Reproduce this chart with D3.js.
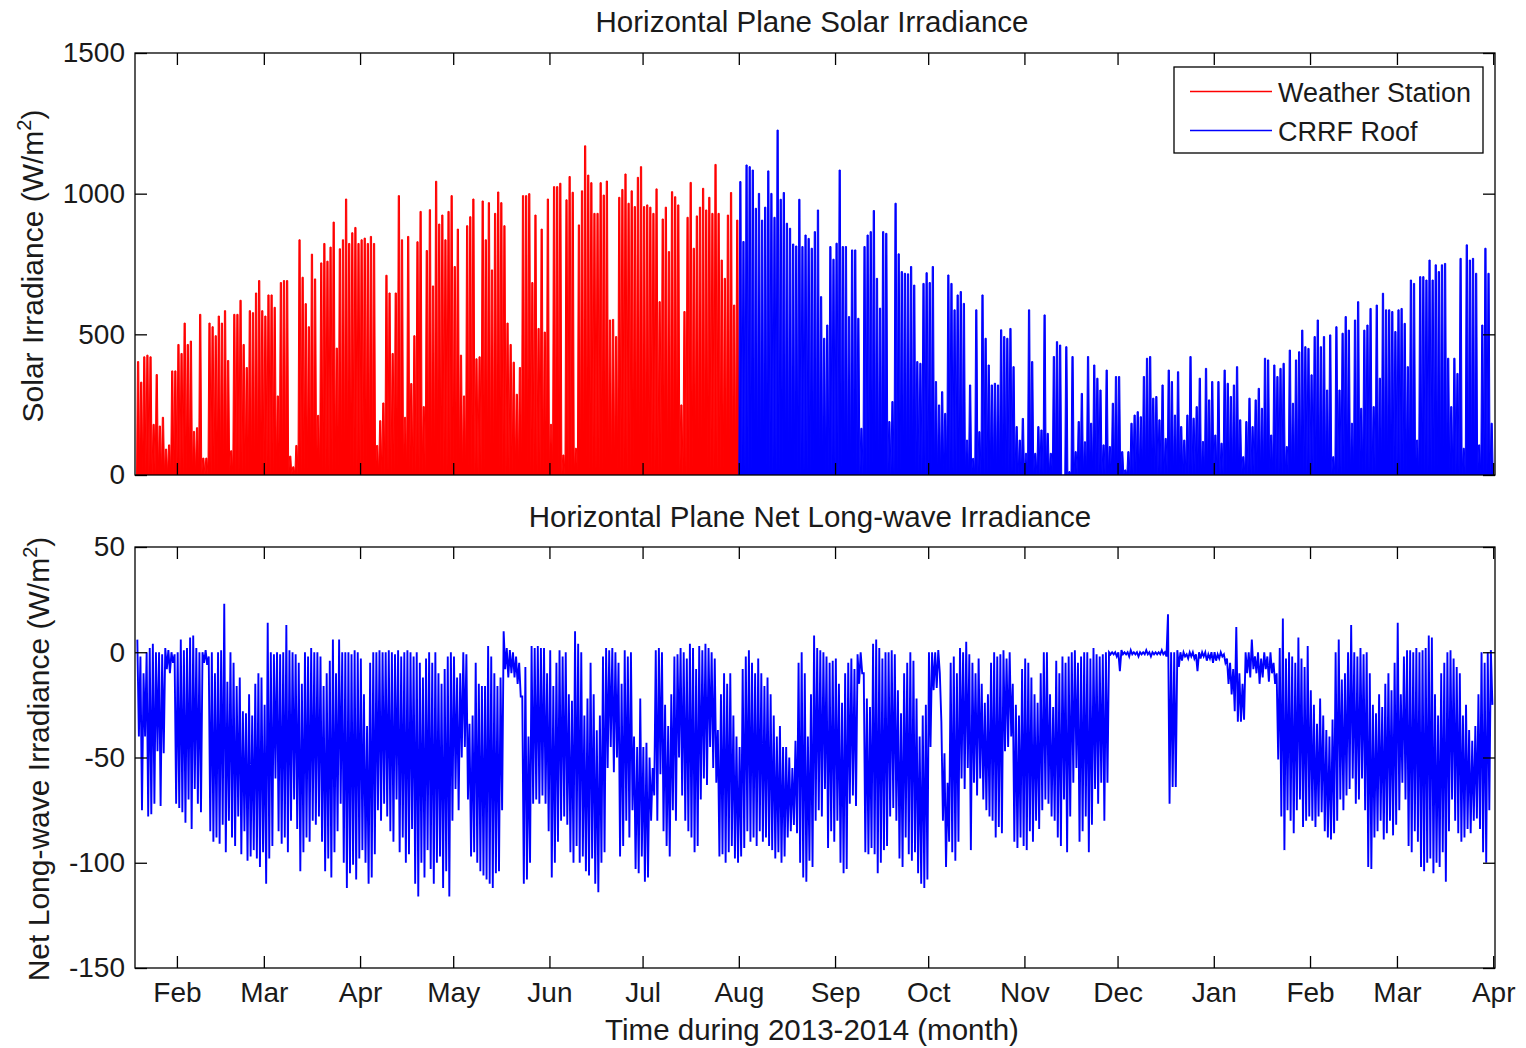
<!DOCTYPE html>
<html>
<head>
<meta charset="utf-8">
<script src="https://cdn.jsdelivr.net/npm/d3@7/dist/d3.min.js"></script>
<style>
body { margin: 0; background: #fff; }
svg { display: block; }
text { font-family: "Liberation Sans", Arial, Helvetica, sans-serif; fill: #1a1a1a; }
</style>
</head>
<body>
<svg id="chart" width="1526" height="1048"></svg>
<script>
//Month ticks shared by both panels
var monthTicks = ["2013-02-01","2013-03-01","2013-04-01","2013-05-01","2013-06-01","2013-07-01","2013-08-01",
    "2013-09-01","2013-10-01","2013-11-01","2013-12-01","2014-01-01","2014-02-01","2014-03-01","2014-04-01"];
var monthLabels = ["Feb","Mar","Apr","May","Jun","Jul","Aug","Sep","Oct","Nov","Dec","Jan","Feb","Mar","Apr"];
var solarTicks = [0, 500, 1000, 1500];
var lwTicks = [-150, -100, -50, 0, 50];

//Daily peak solar irradiance (W/m2), weather station from 2013-01-19
var stationStart = "2013-01-19";
var solarStation = [403,330,420,426,420,180,357,174,205,92,
    107,370,370,464,432,540,464,476,155,168,
    571,60,60,540,527,495,565,540,584,407,
    86,571,571,621,464,382,584,577,647,691,
    584,565,640,640,596,281,684,691,691,67,
    29,105,836,703,609,527,785,697,212,754,
    823,760,810,899,451,804,836,981,823,861,
    880,823,836,842,823,848,823,105,193,256,
    710,647,432,647,993,836,205,848,325,495,
    829,937,243,798,943,672,1044,892,924,836,
    937,993,741,874,426,281,886,918,981,413,
    420,974,836,968,729,930,1006,968,886,540,
    464,401,287,382,993,993,1000,684,924,521,
    874,508,981,180,1025,1025,1037,71,978,1061,
    1005,95,889,1010,1170,1066,1039,930,930,1039,
    995,1045,551,553,492,987,1015,1070,966,1010,
    954,1058,1096,954,960,952,930,1017,616,910,
    952,794,1007,989,960,249,581,916,1040,806,
    921,952,1019,942,987,930,1104,930,764,699,
    924,1004,604,906];

//Daily peak solar irradiance (W/m2), CRRF roof from 2013-08-01
var roofStart = "2013-08-01";
var solarRoof = [1043,830,1102,1096,1084,948,1001,906,952,1081,
    1001,916,1226,980,1004,895,877,821,814,980,
    812,853,841,806,865,942,634,486,533,812,
    767,824,1084,812,812,563,800,800,557,166,
    812,853,865,940,699,593,865,859,190,261,
    966,786,723,717,715,741,675,403,397,681,
    719,684,741,332,249,296,219,711,681,587,
    640,652,610,124,320,59,587,154,640,486,
    391,320,326,320,516,492,486,521,385,172,
    124,201,77,587,403,77,172,160,569,148,
    77,421,474,462,0,456,12,421,83,190,
    290,118,421,184,391,344,302,107,373,101,
    255,350,350,83,18,83,184,213,225,207,
    350,415,421,273,279,196,320,130,373,332,
    213,367,172,124,213,421,202,243,344,119,
    379,267,332,142,332,113,373,326,279,320,
    385,196,65,190,273,172,267,308,237,415,
    409,142,391,350,379,397,101,444,255,409,
    438,515,456,450,356,492,551,456,492,302,
    498,65,527,302,504,563,515,184,551,616,
    237,515,533,592,243,604,344,646,587,587,
    581,510,587,592,539,385,693,681,124,705,
    705,693,764,693,747,723,747,752,415,243,
    415,361,770,95,818,764,770,717,107,533,
    806,717,184];

//Daily high and low net long-wave irradiance (W/m2), CRRF roof from 2013-01-19
var lwStart = "2013-01-19";
var lwHigh = [6,-2,-10,0,2,4,0,0,-1,2,
    1,0,-1,0,6,1,2,7,8,2,
    0,0,1,-2,0,-10,0,1,23,-14,
    0,-5,-16,-12,-28,-29,-20,-30,-15,-10,
    -12,-25,14,0,-1,0,-1,0,13,1,
    0,-1,-5,-15,0,-2,2,0,0,-2,
    -16,-10,-4,6,-10,6,0,0,0,-1,
    1,0,-3,-20,-35,-5,0,0,1,0,
    0,1,0,-1,1,-2,0,1,0,-2,
    0,-5,-12,-3,0,-5,0,-10,-15,-8,
    -2,0,-2,-12,-10,0,-1,-34,-30,-5,
    -15,-16,-16,3,-2,-10,-16,-12,10,2,
    1,0,-2,-5,-21,-7,-40,3,2,3,
    2,2,-10,1,-16,-5,1,-2,0,-20,
    -23,10,4,0,-30,-22,-5,-20,-37,-30,
    -2,2,1,2,0,-5,-15,1,-2,0,
    -40,-45,-22,-45,-43,-50,-55,1,2,0,
    -25,-35,-20,-2,-1,2,0,-3,4,2,
    -8,3,1,4,2,0,-3,-37,-20,-10,
    -15,-10,-30,-40,-45,-8,-2,1,-5,-10,
    -3,-10,-16,-12,-20,-30,-40,-35,-45,-45,
    -50,-55,-42,-5,0,-10,-40,-20,8,2,
    1,0,-2,-5,-4,-3,-15,-24,-10,-5,
    -3,-8,-1,0,-10,-22,-26,4,6,2,
    -3,0,0,1,-1,-18,-29,-10,-5,0,
    -4,-22,-40,-30,-25,0,0,0,1,-33,
    -48,-62,-5,-2,-10,2,0,5,-1,-5,
    -10,-3,-15,-24,-20,-5,0,-2,-1,1,
    -3,0,-15,-25,-30,-8,-3,-5,-12,-20,
    -24,-10,0,0,-20,-26,-4,-10,-2,-5,
    -2,0,1,-5,-2,0,0,-3,2,-1,
    -2,-1,0,0,0,0,0,1,0,0,
    1,0,0,0,0,1,0,0,0,0,
    1,0,18,0,0,1,0,0,-1,0,
    0,-1,0,0,0,-1,0,0,-1,0,
    -1,-3,-5,-8,12,-10,-15,0,0,6,
    -2,0,-3,0,-2,0,-5,-10,2,16,
    -3,0,-2,-5,7,-3,-7,3,-18,-25,
    -34,-22,-30,-37,-40,-32,0,6,-13,-10,
    0,13,0,-2,2,-1,0,-10,-25,-29,
    -20,-26,-15,-10,-18,-5,14,-20,-2,1,
    1,0,2,0,1,2,8,7,-20,-30,
    -10,-5,0,1,-3,-7,-10,-30,-25,-37,
    -42,-35,-20,0,-5,0,1];
var lwLow = [-40,-75,-40,-78,-77,-72,-47,-73,-48,-8,
    -10,-5,-72,-74,-76,-81,-70,-84,-65,-72,
    -76,-5,-6,-85,-90,-88,-91,-82,-95,-80,
    -88,-92,-78,-96,-85,-99,-97,-94,-98,-102,
    -95,-110,-98,-92,-60,-85,-91,-88,-95,-80,
    -70,-84,-104,-95,-88,-90,-80,-82,-78,-90,
    -104,-98,-107,-95,-85,-72,-100,-112,-105,-101,
    -108,-98,-94,-100,-110,-107,-96,-75,-80,-72,
    -78,-85,-90,-70,-95,-88,-100,-96,-84,-110,
    -116,-100,-107,-94,-103,-110,-100,-97,-112,-104,
    -116,-80,-65,-75,-50,-45,-70,-97,-95,-100,
    -104,-106,-108,-110,-112,-105,-104,-75,-8,-12,
    -10,-12,-15,-21,-110,-108,-100,-72,-70,-72,
    -68,-72,-85,-107,-100,-90,-80,-78,-82,-95,
    -100,-92,-100,-97,-104,-106,-98,-110,-114,-100,
    -95,-55,-45,-57,-50,-97,-92,-80,-88,-75,
    -103,-105,-97,-109,-107,-80,-68,-80,-58,-85,
    -92,-97,-75,-80,-50,-68,-80,-85,-88,-95,
    -92,-70,-60,-63,-45,-55,-62,-97,-96,-100,
    -95,-92,-98,-100,-97,-93,-85,-90,-88,-92,
    -85,-90,-88,-92,-94,-98,-95,-100,-97,-88,
    -85,-82,-86,-100,-107,-109,-99,-102,-80,-75,
    -78,-65,-93,-85,-90,-80,-100,-105,-103,-72,
    -68,-73,-15,-10,-95,-96,-93,-96,-105,-100,
    -94,-92,-78,-74,-80,-98,-102,-88,-96,-99,
    -95,-105,-110,-112,-108,-45,-18,-17,-10,-80,
    -102,-90,-95,-99,-90,-60,-65,-55,-94,-62,
    -68,-60,-70,-75,-78,-80,-88,-83,-86,-47,
    -45,-40,-90,-93,-88,-92,-94,-85,-90,-80,
    -84,-75,-70,-72,-78,-80,-88,-92,-70,-95,
    -78,-62,-55,-90,-85,-78,-95,-82,-65,-72,
    -62,-80,-62,-1,-1,-2,-9,-1,-1,-2,
    -1,-1,-2,-1,-1,-1,-2,-1,-1,-1,
    -1,-2,-72,-64,-64,-7,-4,-2,-3,-2,
    -3,-9,-3,-2,-4,-3,-5,-4,-3,-2,
    -5,-15,-20,-28,-33,-33,-32,-10,-12,-8,
    -10,-15,-12,-8,-14,-10,-15,-51,-78,-94,
    -75,-80,-86,-75,-70,-83,-80,-78,-80,-83,
    -78,-76,-85,-88,-89,-86,-80,-70,-75,-68,
    -65,-60,-72,-70,-60,-75,-102,-103,-88,-85,
    -80,-89,-86,-80,-87,-82,-75,-62,-70,-92,
    -95,-85,-90,-102,-104,-100,-98,-105,-100,-102,
    -95,-109,-85,-70,-80,-86,-90,-88,-84,-86,
    -80,-79,-84,-95,-100,-75,-25];

var DAY = 864e5;
var parseDay = d3.utcParse("%Y-%m-%d");

var svg = d3.select("#chart");
svg.append("rect").attr("width", 1526).attr("height", 1048).attr("fill", "#fff");

//Shared time scale, both panels span the same dates
var x = d3.scaleUtc()
    .domain([new Date(Date.UTC(2013, 0, 18, 12)), new Date(Date.UTC(2014, 3, 1, 14))])
    .range([135, 1495]);

var ySolar = d3.scaleLinear().domain([0, 1500]).range([475, 53]);
var yLw = d3.scaleLinear().domain([-150, 50]).range([968, 547]);

var tickDates = monthTicks.map(function (d) { return parseDay(d); });

var defs = svg.append("defs");
defs.append("clipPath").attr("id", "clipTop")
    .append("rect").attr("x", 135).attr("y", 53).attr("width", 1360).attr("height", 422);
defs.append("clipPath").attr("id", "clipBottom")
    .append("rect").attr("x", 135).attr("y", 547).attr("width", 1360).attr("height", 421);

//Each day becomes one peak: rise, plateau at the daily value, back to zero
function dailyPeaks(start, values) {
    var t = parseDay(start).getTime();
    var pts = [];
    values.forEach(function (v, i) {
        var t0 = t + i * DAY;
        pts.push([t0, 0], [t0 + 0.3 * DAY, v], [t0 + 0.7 * DAY, v], [t0 + DAY, 0]);
    });
    return pts;
}

//Each day becomes a swing from its high to its low
function dailySwing(start, highs, lows) {
    var t = parseDay(start).getTime();
    var pts = [];
    highs.forEach(function (h, i) {
        var t0 = t + i * DAY;
        pts.push([t0 + 0.25 * DAY, h], [t0 + 0.75 * DAY, lows[i]]);
    });
    return pts;
}

var solarArea = d3.area()
    .x(function (d) { return x(new Date(d[0])); })
    .y0(ySolar(0))
    .y1(function (d) { return ySolar(d[1]); });
var solarLine = d3.line()
    .x(function (d) { return x(new Date(d[0])); })
    .y(function (d) { return ySolar(d[1]); });
var lwLine = d3.line()
    .x(function (d) { return x(new Date(d[0])); })
    .y(function (d) { return yLw(d[1]); });

var topData = svg.append("g").attr("clip-path", "url(#clipTop)");
[[stationStart, solarStation, "#ff0000"], [roofStart, solarRoof, "#0000ff"]].forEach(function (s) {
    var pts = dailyPeaks(s[0], s[1]);
    topData.append("path")
        .attr("d", solarArea(pts))
        .attr("fill", s[2]);
    topData.append("path")
        .attr("d", solarLine(pts))
        .attr("fill", "none")
        .attr("stroke", s[2])
        .attr("stroke-width", 1);
});

svg.append("g").attr("clip-path", "url(#clipBottom)")
    .append("path")
    .attr("d", lwLine(dailySwing(lwStart, lwHigh, lwLow)))
    .attr("fill", "none")
    .attr("stroke", "#0000ff")
    .attr("stroke-width", 1.9);

//Box axes with inward ticks on all four sides
function drawFrame(y, ticks, withMonthLabels) {
    var top = y.range()[1], bottom = y.range()[0];
    var g = svg.append("g").attr("color", "#000");

    g.append("g").attr("transform", "translate(0," + bottom + ")")
        .call(d3.axisBottom(x).tickValues(tickDates).tickSize(-12).tickPadding(14)
            .tickFormat(function (d, i) { return withMonthLabels ? monthLabels[i] : ""; }));
    g.append("g").attr("transform", "translate(0," + top + ")")
        .call(d3.axisTop(x).tickValues(tickDates).tickSize(-12).tickFormat(""));
    g.append("g").attr("transform", "translate(135,0)")
        .call(d3.axisLeft(y).tickValues(ticks).tickSize(-12).tickPadding(10)
            .tickFormat(function (d) { return String(d); }));
    g.append("g").attr("transform", "translate(1495,0)")
        .call(d3.axisRight(y).tickValues(ticks).tickSize(-12).tickFormat(""));

    g.selectAll(".domain").remove();
    g.selectAll(".tick line").attr("stroke-width", 1.3);
    g.selectAll("text")
        .attr("font-family", "'Liberation Sans', Arial, sans-serif")
        .attr("font-size", 28)
        .attr("fill", "#1a1a1a");

    g.append("rect")
        .attr("x", 135).attr("y", top)
        .attr("width", 1360).attr("height", bottom - top)
        .attr("fill", "none")
        .attr("stroke", "#000")
        .attr("stroke-width", 1.3);
}

drawFrame(ySolar, solarTicks, false);
drawFrame(yLw, lwTicks, true);

//Titles and axis labels
svg.append("text").attr("x", 812).attr("y", 32).attr("text-anchor", "middle")
    .attr("font-size", 29.5).text("Horizontal Plane Solar Irradiance");
svg.append("text").attr("x", 810).attr("y", 527).attr("text-anchor", "middle")
    .attr("font-size", 29.5).text("Horizontal Plane Net Long-wave Irradiance");
svg.append("text").attr("x", 812).attr("y", 1040).attr("text-anchor", "middle")
    .attr("font-size", 29.5).text("Time during 2013-2014 (month)");

function yLabel(cx, cy, main) {
    var t = svg.append("text")
        .attr("transform", "translate(" + cx + "," + cy + ") rotate(-90)")
        .attr("text-anchor", "middle")
        .attr("font-size", 30);
    t.append("tspan").text(main + " (W/m");
    t.append("tspan").attr("font-size", 20).attr("dy", -12).text("2");
    t.append("tspan").attr("dy", 12).text(")");
}
yLabel(43, 266, "Solar Irradiance");
yLabel(49, 759, "Net Long-wave Irradiance");

//Legend
var legend = svg.append("g");
legend.append("rect")
    .attr("x", 1174).attr("y", 67).attr("width", 309).attr("height", 86)
    .attr("fill", "#fff").attr("stroke", "#000").attr("stroke-width", 1.3);
[["Weather Station", "#ff0000", 91.5], ["CRRF Roof", "#0000ff", 130.5]].forEach(function (e) {
    legend.append("line")
        .attr("x1", 1190).attr("x2", 1272)
        .attr("y1", e[2]).attr("y2", e[2])
        .attr("stroke", e[1]).attr("stroke-width", 1.3);
    legend.append("text")
        .attr("x", 1278).attr("y", e[2] + 10)
        .attr("font-size", 27)
        .text(e[0]);
});
</script>
</body>
</html>
